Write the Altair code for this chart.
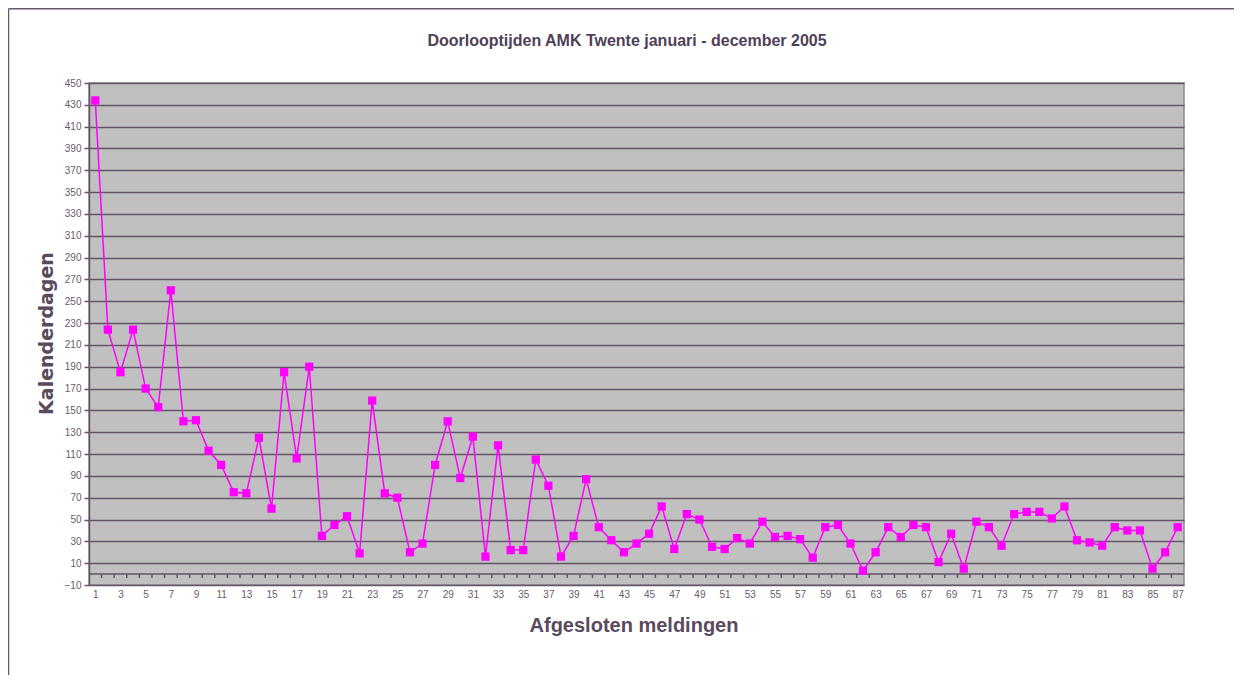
import altair as alt
import pandas as pd

# ---- data ----
meldingen = list(range(1, 88))
kalenderdagen = [434, 224, 185, 224, 170, 153, 260, 140, 141, 113,
                 100, 75, 74, 125, 60, 185, 106, 190, 35, 45,
                 53, 19, 159, 74, 70, 20, 28, 100, 140, 88,
                 126, 16, 118, 22, 22, 105, 81, 16, 35, 87,
                 43, 31, 20, 28, 37, 62, 23, 55, 50, 25,
                 23, 33, 28, 48, 34, 35, 32, 15, 43, 45,
                 28, 3, 20, 43, 34, 45, 43, 11, 37, 5,
                 48, 43, 26, 55, 57, 57, 51, 62, 31, 29,
                 26, 43, 40, 40, 5, 20, 43]
x_labels = list(range(1, 88, 2))
y_ticks = list(range(-10, 451, 20))
category_bounds = [i + 0.5 for i in range(1, 87)]

title_text = "Doorlooptijden AMK Twente januari - december 2005"
x_title = "Afgesloten meldingen"
y_title = "Kalenderdagen"

df = pd.DataFrame({"melding": meldingen, "dagen": kalenderdagen})
bounds_df = pd.DataFrame({"b": category_bounds})
one = pd.DataFrame({"a": [0]})

W, H = 1095, 502
DARK = "#66556a"
TEXT = "#6a5a6e"
MAGENTA = "#ff00ff"

xscale = alt.Scale(domain=[0.5, 87.5], nice=False, zero=False)
yscale = alt.Scale(domain=[-10, 450], nice=False, zero=False)

x_axis = alt.Axis(values=x_labels, ticks=False, domain=False, grid=False,
                  labelFont="Liberation Sans", labelFontSize=10,
                  labelColor=TEXT, labelPadding=4, labelFlush=False,
                  labelOverlap=False, labelBound=False,
                  title=x_title, titleFont="Liberation Sans",
                  titleFontSize=20, titleFontWeight="bold",
                  titleColor="#5a4a5e", titleX=W / 2 - 3, titleY=40,
                  titleBaseline="middle", titleAlign="center")
y_axis = alt.Axis(values=y_ticks, grid=True, gridColor=DARK, gridWidth=1.5,
                  gridOpacity=1,
                  ticks=True, tickSize=5, tickColor=DARK, tickWidth=1.5,
                  domain=True, domainColor=DARK, domainWidth=1.5,
                  labelFont="Liberation Sans", labelFontSize=10,
                  labelColor=TEXT, labelPadding=3,
                  labelOverlap=False, labelBound=False, labelFlush=False,
                  title=y_title, titleFont="DejaVu Sans",
                  titleFontSize=19, titleFontWeight="bold",
                  titleColor="#5a4a5e", titleX=-43, titleY=250,
                  titleAngle=270, titleBaseline="middle",
                  titleAlign="center")

base = alt.Chart(df)

series = base.mark_line(color=MAGENTA, strokeWidth=1.5).encode(
    x=alt.X("melding:Q", scale=xscale, axis=x_axis),
    y=alt.Y("dagen:Q", scale=yscale, axis=y_axis),
)

points = base.mark_square(color=MAGENTA, size=68, opacity=1, filled=True).encode(
    x=alt.X("melding:Q", scale=xscale, axis=x_axis),
    y=alt.Y("dagen:Q", scale=yscale, axis=y_axis),
)

zero_line = alt.Chart(one).mark_rule(color=DARK, strokeWidth=1.5).encode(
    y=alt.Y(datum=0, scale=yscale, axis=y_axis)
)

ticks = alt.Chart(bounds_df).mark_rule(color=DARK, strokeWidth=1.5).encode(
    x=alt.X("b:Q", scale=xscale, axis=x_axis),
    y=alt.Y(datum=0, scale=yscale, axis=y_axis),
    y2=alt.Y2(datum=-3.6),
)

frame_left = alt.Chart(one).mark_rule(color="#6b5670", strokeWidth=1.5).encode(
    x=alt.value(-80.5), y=alt.value(-74.3), y2=alt.value(H + 100)
)
frame_top = alt.Chart(one).mark_rule(color="#6b5670", strokeWidth=1.5).encode(
    x=alt.value(-80.5), x2=alt.value(W + 100), y=alt.value(-74.3)
)

title_mark = alt.Chart(one).mark_text(
    text=title_text, font="Liberation Sans", fontSize=16, fontWeight="bold",
    color="#4f3f57", align="center", baseline="alphabetic"
).encode(x=alt.value(538), y=alt.value(-37))

chart = alt.layer(
    zero_line, ticks, series, points, frame_left, frame_top, title_mark
).properties(
    width=W,
    height=H,
    autosize=alt.AutoSizeParams(type="none"),
    padding={"left": 81, "top": 75, "right": 50, "bottom": 90},
).configure(
    background="white"
).configure_view(
    fill="#c0c0c0", stroke="#8a8a8a", strokeWidth=1.5
).configure_axis(
    labelOverlap=False
)

chart.save("out.html", embed_options={"renderer": "svg", "actions": False})
